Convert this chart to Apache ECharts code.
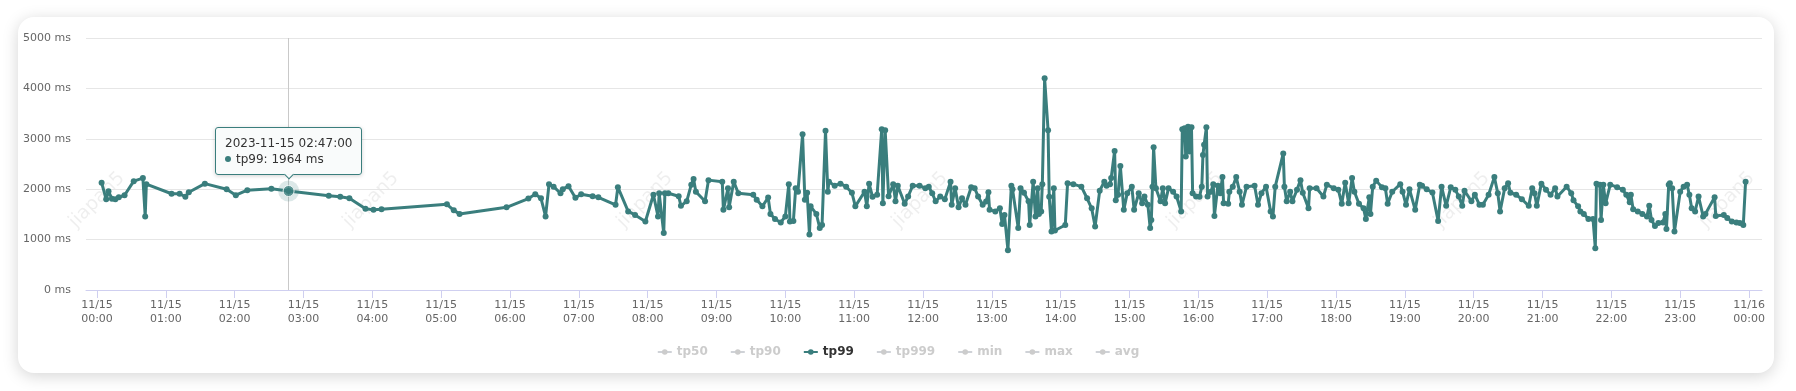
<!DOCTYPE html>
<html><head><meta charset="utf-8">
<script src="https://cdn.jsdelivr.net/npm/echarts@6/dist/echarts.min.js"></script>
<style>
html,body{margin:0;padding:0;background:#fff;width:1796px;height:391px;overflow:hidden;}
#card{position:absolute;left:18px;top:17px;width:1756px;height:356px;border-radius:16px;background:#fff;box-shadow:0 3px 16px rgba(0,0,0,0.17);}
#chart{position:absolute;left:0;top:0;width:1796px;height:391px;}
</style></head><body>
<div id="card"></div><div id="chart"></div>
<script>
const day = '2023-11-15';
const legendNames = ['tp50','tp90','tp99','tp999','min','max','avg'];
const activeSeries = 'tp99';
const yTicks = [0,1000,2000,3000,4000,5000];
const hourTicks = [0,1,2,3,4,5,6,7,8,9,10,11,12,13,14,15,16,17,18,19,20,21,22,23,24];
const tipTime = '02:47';
const watermark = 'jiapan5';

const times = [
'00:04','00:08','00:10','00:13','00:16','00:19','00:24','00:32','00:40','00:42','00:43',
'01:05','01:12','01:17','01:20','01:34','01:53','02:01','02:11','02:32','02:47',
'03:22','03:32','03:40','03:54','04:01','04:08','05:05','05:11','05:16','05:57',
'06:16','06:22','06:27','06:31','06:34','06:38','06:44','06:46','06:51','06:57',
'07:02','07:12','07:17','07:32','07:34','07:43','07:49','07:58',
'08:05','08:09','08:10','08:14','08:15','08:18','08:27','08:29','08:34','08:38','08:40','08:42','08:50','08:53',
'09:05','09:06','09:10','09:11','09:15','09:19','09:32','09:35','09:40','09:45','09:47','09:51','09:56',
'10:00','10:03','10:04','10:07','10:09','10:11','10:15','10:17','10:19','10:21','10:22','10:27','10:30','10:32','10:35','10:37','10:38','10:43','10:48','10:53','10:58',
'11:01','11:09','11:11','11:13','11:16','11:20','11:24','11:25','11:27','11:30','11:34','11:36','11:38','11:44','11:47','11:51','11:57',
'12:02','12:05','12:08','12:11','12:15','12:19','12:24','12:25','12:28','12:31','12:34','12:37','12:42','12:45','12:48','12:52','12:55','12:57','12:58',
'13:03','13:07','13:09','13:11','13:14','13:17','13:18','13:23','13:25','13:28','13:32','13:33','13:36','13:38','13:40','13:41','13:43','13:44','13:46','13:49','13:50','13:52','13:54','13:55',
'14:04','14:06','14:11','14:18','14:23','14:27','14:30','14:34','14:38','14:40','14:43','14:44','14:47','14:48','14:50','14:52','14:55','14:58',
'15:02','15:04','15:08','15:11','15:13','15:16','15:18','15:19','15:20','15:21','15:23','15:27','15:29','15:31','15:34','15:38','15:41','15:45','15:46','15:48','15:49','15:51','15:52','15:54','15:55','15:58',
'16:01','16:03','16:04','16:05','16:07','16:08','16:11','16:13','16:14','16:17','16:19','16:21','16:22','16:26','16:27','16:30','16:33','16:36','16:38','16:42','16:49','16:52','16:55','16:59',
'17:03','17:05','17:07','17:14','17:15','17:17','17:20','17:22','17:26','17:29','17:31','17:36','17:37','17:43','17:49','17:52','17:58',
'18:02','18:05','18:08','18:11','18:14','18:16','18:20','18:24','18:26','18:29','18:30','18:32','18:35','18:40','18:43','18:45','18:49','18:56','18:58',
'19:01','19:04','19:09','19:13','19:15','19:19','19:24','19:29','19:32','19:36','19:40','19:44','19:47','19:50','19:52','19:58',
'20:01','20:05','20:08','20:13','20:18','20:21','20:23','20:27','20:30','20:32','20:37','20:42','20:48','20:51','20:53','20:55','20:59',
'21:03','21:07','21:11','21:13','21:21','21:25','21:27','21:31','21:33','21:36','21:40','21:44','21:46','21:47','21:50','21:51','21:53','21:55','21:59',
'22:05','22:10','22:13','22:16','22:17','22:19','22:23','22:27','22:31','22:33','22:35','22:38','22:41','22:45','22:47','22:48','22:50','22:51','22:53','22:55',
'23:00','23:03','23:06','23:08','23:10','23:13','23:16','23:20','23:22','23:30','23:31','23:38','23:41','23:45','23:49','23:52','23:55','23:57'
];
const tp99 = [
2130,1800,1960,1810,1800,1840,1880,2160,2220,1460,2100,
1910,1910,1850,1940,2110,2000,1880,1980,2010,1964,
1870,1850,1820,1610,1590,1600,1700,1580,1510,1640,
1815,1900,1820,1460,2100,2050,1920,2000,2060,1830,
1900,1860,1840,1690,2040,1560,1490,1360,
1890,1460,1920,1130,1920,1920,1860,1670,1760,2090,2200,1950,1760,2180,
2150,1590,2020,1640,2150,1920,1890,1790,1660,1835,1510,1410,1340,
1460,2100,1360,1370,2020,1950,3090,1790,1930,1100,1660,1510,1230,1290,3160,1950,2150,2070,2110,2050,1930,
1660,1950,1660,2110,1850,1890,3190,1720,3170,1860,2100,1760,2070,1710,1855,2070,2066,
2020,2050,1920,1760,1855,1800,2150,1690,2020,1640,1820,1690,2040,2020,1855,1690,1756,1940,1590,
1560,1620,1310,1490,790,2070,2000,1230,2020,1930,1760,1290,2150,1460,2020,1510,1560,2100,4200,3170,1850,1160,2020,1180,
1290,2120,2100,2050,1820,1620,1260,1970,2150,2070,2100,2220,2760,1780,1890,2460,1590,1920,
2050,1590,1920,1720,1855,1690,1230,1390,2050,2830,2020,1760,2020,1720,2020,1950,1855,1560,3190,3210,2650,3240,2750,3230,1920,1855,
1850,2050,2680,2880,3230,1855,1950,2100,1470,2070,1920,2240,1720,1710,1950,2050,2240,1950,1690,2050,2070,1690,1920,2050,
1560,1460,2050,2710,2050,1760,1950,1760,1990,2180,1930,1620,2020,2020,1855,2090,2020,
1990,1710,2130,1720,2220,1950,1710,1620,1410,1840,1510,2050,2170,2040,2020,1710,1950,2100,1950,
1690,2000,1590,2090,2066,2000,1934,1370,2050,1670,2040,1987,1855,1670,1970,1760,
1890,1690,1690,1890,2240,1920,1560,2020,2120,1930,1890,1800,1670,2020,1920,1670,2110,
1990,1890,2020,1855,2050,1920,1780,1660,1560,1510,1410,1410,830,2110,2086,1390,2086,1720,2090,
2040,1987,1890,1740,1890,1600,1560,1510,1460,1670,1390,1270,1327,1340,1510,1210,2090,2119,2020,1160,
1950,2050,2090,1890,1620,1560,1855,1460,1510,1840,1470,1490,1430,1360,1340,1327,1290,2150
];

const TEAL = '#3a7e7d';
const FONT = 'DejaVu Sans';
const base = new Date(day + 'T00:00:00').getTime();
const toTs = t => new Date(day + 'T' + t + ':00').getTime();
const pts = times.map((t, i) => [toTs(t), tp99[i]]);
const tipIdx = times.indexOf(tipTime);
const tipPt = pts[tipIdx];
const HOUR = 3600000;
const pad2 = n => (n < 10 ? '0' : '') + n;

const chart = echarts.init(document.getElementById('chart'), null, {renderer: 'canvas'});

const wmX = [97, 371, 645, 920, 1195, 1462, 1727];
const graphics = wmX.map(x => ({
  type: 'text', x: x, y: 200, rotation: Math.PI / 4, silent: true, z: -10,
  style: {text: watermark, fill: 'rgba(0,0,0,0.065)', font: '19px "DejaVu Sans"', align: 'center', verticalAlign: 'middle'}
}));

const otherColors = ['#5470c6','#91cc75','#3a7e7d','#fac858','#ee6666','#73c0de','#fc8452'];
const series = legendNames.map((n, i) => ({
  name: n, type: 'line', symbol: 'circle', symbolSize: 6, showSymbol: true,
  color: otherColors[i],
  lineStyle: {width: 3, color: otherColors[i]},
  itemStyle: {color: otherColors[i]},
  data: n === activeSeries ? pts : [],
  z: 3, animation: false, emphasis: {disabled: true}
}));
series.push({
  name: 'halo', type: 'scatter', symbolSize: 21, data: [tipPt], z: 4, silent: true,
  itemStyle: {color: 'rgba(58,126,125,0.22)'}, animation: false,
  markLine: {silent: true, symbol: ['none','none'], label: {show: false}, z: 1,
    lineStyle: {color: '#c9c9c9', width: 1, type: 'solid'}, data: [{xAxis: tipPt[0]}], animation: false}
});
series.push({
  name: 'tip', type: 'scatter', symbolSize: 11, data: [tipPt], z: 5,
  itemStyle: {color: TEAL, borderColor: '#ffffff', borderWidth: 1}, animation: false
});

const selected = {};
legendNames.forEach(n => selected[n] = (n === activeSeries));

chart.setOption({
  animation: false,
  textStyle: {fontFamily: FONT},
  graphic: graphics,
  grid: {left: 86, right: 34, top: 38, bottom: 101},
  legend: {
    data: legendNames, selected: selected, left: 'center', top: 341,
    itemWidth: 14, itemHeight: 7, itemGap: 22,
    textStyle: {fontSize: 12, fontWeight: 'bold', color: '#333', fontFamily: FONT},
    inactiveColor: '#cccccc', inactiveBorderColor: '#cccccc'
  },
  tooltip: {
    trigger: 'item', triggerOn: 'none', alwaysShowContent: true, position: 'top',
    backgroundColor: 'rgba(249,251,251,0.97)', borderColor: TEAL, borderWidth: 1,
    padding: [7, 9], transitionDuration: 0,
    textStyle: {color: '#333', fontSize: 12, fontFamily: FONT},
    extraCssText: 'line-height:16px;border-radius:3px;box-shadow:0 1px 4px rgba(0,0,0,0.18);',
    formatter: p => {
      const d = new Date(p.value[0]);
      const ts = day + ' ' + pad2(d.getHours()) + ':' + pad2(d.getMinutes()) + ':00';
      return ts + '<br/><span style="display:inline-block;width:6px;height:6px;border-radius:50%;background:' + TEAL +
        ';margin-right:5px;vertical-align:middle;position:relative;top:-1px"></span>tp99: ' + p.value[1] + ' ms';
    }
  },
  xAxis: {
    type: 'value',
    min: base - 9.6 * 60000, max: base + 24 * HOUR + 11.3 * 60000,
    splitLine: {show: false},
    axisLine: {lineStyle: {color: '#cfcff0', width: 1}},
    axisTick: {show: true, length: 8, lineStyle: {color: '#cfcff0'}, customValues: hourTicks.map(h => base + h * HOUR)},
    axisLabel: {
      customValues: hourTicks.map(h => base + h * HOUR),
      color: '#666', fontSize: 11, lineHeight: 14, margin: 8, fontFamily: FONT,
      formatter: v => {
        const d = new Date(v);
        return pad2(d.getMonth() + 1) + '/' + pad2(d.getDate()) + '\n' + pad2(d.getHours()) + ':' + pad2(d.getMinutes());
      }
    }
  },
  yAxis: {
    type: 'value', min: yTicks[0], max: yTicks[yTicks.length - 1], interval: yTicks[1] - yTicks[0],
    axisLine: {show: false}, axisTick: {show: false},
    splitLine: {lineStyle: {color: '#e6e6e6', width: 1}},
    axisLabel: {formatter: v => v + ' ms', color: '#666', fontSize: 11, margin: 15, fontFamily: FONT}
  },
  series: series
});

chart.dispatchAction({type: 'showTip', seriesIndex: series.length - 1, dataIndex: 0});
</script>
</body></html>
